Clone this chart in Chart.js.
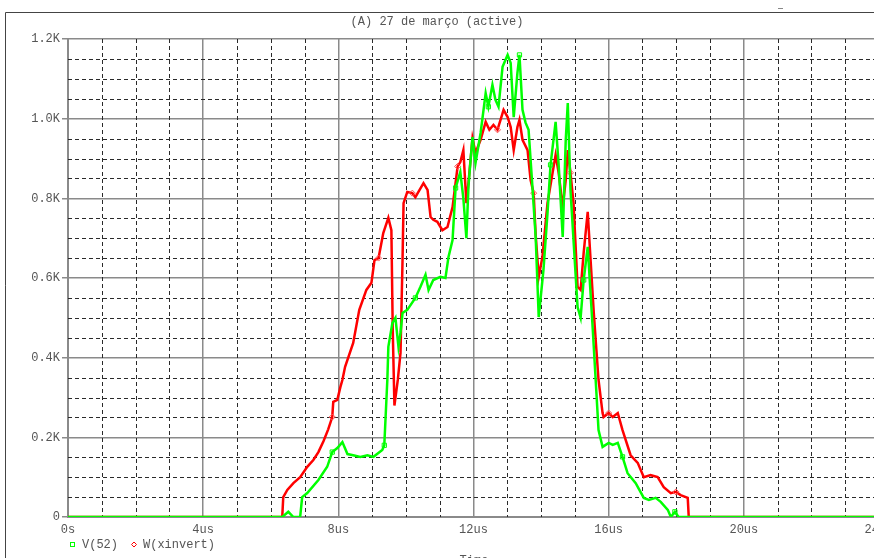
<!DOCTYPE html>
<html>
<head>
<meta charset="utf-8">
<script src="https://cdn.jsdelivr.net/npm/chart.js@4.4.1/dist/chart.umd.min.js"></script>
<style>
    html, body { margin: 0; padding: 0; overflow: hidden; background: #fff; }
    #wrap { width: 920px; height: 558px; }
</style>
</head>
<body>
<div id="wrap"><canvas id="graph" width="920" height="558"></canvas></div>
<script>
/********************
 * Data (time in us, value in K) *
 ********************/
const timesV = [0, 6.34, 6.52, 6.67, 6.87, 6.93, 7.08, 7.41, 7.67, 7.82, 7.97, 8.12, 8.27, 8.44, 8.65, 8.86, 9.04, 9.30, 9.36,
    9.45, 9.48, 9.60, 9.69, 9.78, 9.84, 9.90, 10.04, 10.28, 10.43, 10.58, 10.67, 10.81, 11.02, 11.17, 11.26, 11.38, 11.47,
    11.61, 11.70, 11.79, 11.85, 11.97, 12.06, 12.21, 12.36, 12.44, 12.56, 12.65, 12.74, 12.86, 13.01, 13.10, 13.19, 13.30,
    13.36, 13.45, 13.54, 13.63, 13.75, 13.84, 13.93, 14.07, 14.19, 14.28, 14.43, 14.52, 14.64, 14.73, 14.79, 14.87, 15.08,
    15.17, 15.26, 15.38, 15.53, 15.61, 15.70, 15.82, 16.00, 16.12, 16.27, 16.41, 16.56, 16.80, 17.04, 17.19, 17.39, 17.54,
    17.75, 17.84, 17.96, 18.07, 24];
const valuesV = [0, 0, 0.013, 0, 0, 0.05, 0.06, 0.093, 0.126, 0.163, 0.173, 0.188, 0.158, 0.155, 0.151, 0.155, 0.151, 0.168, 0.18,
    0.344, 0.427, 0.487, 0.5, 0.427, 0.462, 0.512, 0.52, 0.55, 0.578, 0.608, 0.57, 0.595, 0.603, 0.6, 0.653, 0.695, 0.826,
    0.866, 0.80, 0.70, 0.83, 0.954, 0.889, 0.964, 1.064, 1.03, 1.085, 1.047, 1.03, 1.13, 1.16, 1.14, 1.004, 1.115,
    1.16, 1.022, 0.99, 0.972, 0.821, 0.703, 0.502, 0.62, 0.763, 0.884, 0.992, 0.884, 0.703, 0.947, 1.039, 0.821, 0.527,
    0.5, 0.595, 0.678, 0.47, 0.352, 0.218, 0.176, 0.186, 0.181, 0.186, 0.151, 0.11, 0.085, 0.048, 0.043, 0.048, 0.038,
    0.018, 0, 0.013, 0, 0];

const timesW = [0, 6.34, 6.37, 6.49, 6.67, 6.87, 7.08, 7.26, 7.41, 7.56, 7.70, 7.82, 7.85, 7.97, 8.06, 8.12, 8.20, 8.44, 8.62,
    8.83, 8.98, 9.07, 9.19, 9.33, 9.48, 9.57, 9.61, 9.66, 9.76, 9.84, 9.90, 9.93, 10.04, 10.19, 10.28, 10.37, 10.52, 10.64,
    10.73, 10.81, 10.93, 11.08, 11.23, 11.38, 11.53, 11.61, 11.70, 11.79, 11.85, 11.97, 12.06, 12.21, 12.36, 12.47, 12.59,
    12.71, 12.80, 12.89, 13.01, 13.10, 13.19, 13.30, 13.36, 13.45, 13.60, 13.69, 13.78, 13.84, 13.93, 14.04, 14.19, 14.34,
    14.43, 14.52, 14.64, 14.73, 14.79, 14.87, 14.96, 15.08, 15.17, 15.26, 15.38, 15.47, 15.56, 15.70, 15.82, 15.85, 16.00,
    16.12, 16.27, 16.41, 16.65, 16.86, 17.04, 17.24, 17.45, 17.63, 17.84, 17.99, 18.13, 18.34, 18.37, 24];
const valuesW = [0, 0, 0.05, 0.068, 0.085, 0.10, 0.126, 0.143, 0.163, 0.19, 0.22, 0.251, 0.289, 0.294, 0.326, 0.344, 0.377, 0.437, 0.52,
    0.57, 0.588, 0.645, 0.65, 0.713, 0.751, 0.72, 0.47, 0.28, 0.344, 0.412, 0.645, 0.788, 0.816, 0.813, 0.803, 0.816, 0.838, 0.821,
    0.753, 0.746, 0.741, 0.72, 0.728, 0.778, 0.88, 0.891, 0.921, 0.788, 0.838, 0.951, 0.914, 0.947, 0.992, 0.972, 0.984,
    0.972, 0.997, 1.022, 1.004, 0.979, 0.921, 0.979, 0.997, 0.947, 0.921, 0.846, 0.813, 0.708, 0.603, 0.653, 0.788, 0.864,
    0.909, 0.864, 0.778, 0.846, 0.921, 0.864, 0.788, 0.578, 0.57, 0.663, 0.766, 0.638, 0.512, 0.344, 0.261, 0.251, 0.261,
    0.251, 0.261, 0.218, 0.155, 0.136, 0.10, 0.105, 0.10, 0.075, 0.06, 0.063, 0.055, 0.048, 0, 0];

const seriesNames = ['V(52)', 'W(xinvert)'];
const plotTitle = '(A) 27 de março (active)';
const axisTitle = 'Time';

const monoFont = "'Liberation Mono', 'DejaVu Sans Mono', monospace";
const textColor = '#555';

function toPoints(times, values) {
    return times.map((t, i) => ({x: t, y: values[i]}));
}

// sparse markers like the simulator draws
function markerRadius(step, size) {
    return ctx => (ctx.dataIndex > 0 && ctx.dataIndex % step === 0 && ctx.raw.y > 0) ? size : 0;
}

/*********************
 * Extra drawing *
 *********************/
const minorGrid = {
    id: 'minorGrid',
    beforeDatasetsDraw(chart) {
        const {ctx, chartArea, scales} = chart;
        ctx.save();
        ctx.strokeStyle = '#2a2a2a';
        ctx.lineWidth = 1;
        ctx.setLineDash([4, 3]);
        for (let t = 1; t < 24; ++t) {
            if (t % 4 === 0) continue;
            const x = Math.round(scales.x.getPixelForValue(t)) + 0.5;
            ctx.beginPath();
            ctx.moveTo(x, chartArea.top);
            ctx.lineTo(x, chartArea.bottom);
            ctx.stroke();
        }
        for (let k = 1; k < 24; ++k) {
            if (k % 4 === 0) continue;
            const y = Math.round(scales.y.getPixelForValue(k * 0.05)) + 0.5;
            ctx.beginPath();
            ctx.moveTo(chartArea.left, y);
            ctx.lineTo(chartArea.right, y);
            ctx.stroke();
        }
        ctx.restore();
    }
};

const decorations = {
    id: 'decorations',
    afterDraw(chart) {
        const {ctx} = chart;
        ctx.save();
        // outer frame
        ctx.strokeStyle = '#444';
        ctx.lineWidth = 1;
        ctx.beginPath();
        ctx.moveTo(5.5, 600);
        ctx.lineTo(5.5, 12.5);
        ctx.lineTo(920, 12.5);
        ctx.stroke();
        ctx.strokeStyle = '#888';
        ctx.beginPath();
        ctx.moveTo(778, 8.5);
        ctx.lineTo(783, 8.5);
        ctx.stroke();

        ctx.font = '12px ' + monoFont;
        ctx.fillStyle = textColor;
        ctx.textAlign = 'center';
        ctx.textBaseline = 'middle';
        ctx.fillText(plotTitle, 437, 22);

        // legend
        ctx.textAlign = 'left';
        ctx.lineWidth = 1;
        ctx.strokeStyle = '#00ff00';
        ctx.strokeRect(70.5, 542.5, 4, 4);
        ctx.fillText(seriesNames[0], 82, 545);
        ctx.strokeStyle = '#ff0000';
        ctx.beginPath();
        ctx.moveTo(134, 542);
        ctx.lineTo(136.5, 544.5);
        ctx.lineTo(134, 547);
        ctx.lineTo(131.5, 544.5);
        ctx.closePath();
        ctx.stroke();
        ctx.fillText(seriesNames[1], 143, 545);

        ctx.textAlign = 'center';
        ctx.textBaseline = 'top';
        ctx.fillText(axisTitle, 474, 555);
        ctx.restore();
    }
};

/**************************
 * Chart *
 **************************/
const context = document.getElementById('graph').getContext('2d');
const chart = new Chart(context, {
    type: 'line',
    data: {
        datasets: [
            {
                label: seriesNames[0],
                data: toPoints(timesV, valuesV),
                borderColor: '#00ff00',
                borderWidth: 2.5,
                pointStyle: 'rect',
                pointRadius: markerRadius(9, 3),
                pointBackgroundColor: 'rgba(0,0,0,0)',
                pointBorderColor: '#00ff00',
                pointBorderWidth: 1,
                tension: 0,
                fill: false
            },
            {
                label: seriesNames[1],
                data: toPoints(timesW, valuesW),
                borderColor: '#ff0000',
                borderWidth: 2.5,
                pointStyle: 'rectRot',
                pointRadius: markerRadius(11, 3),
                pointBackgroundColor: 'rgba(0,0,0,0)',
                pointBorderColor: '#ff5050',
                pointBorderWidth: 1,
                tension: 0,
                fill: false
            }
        ]
    },
    options: {
        responsive: false,
        animation: false,
        events: [],
        layout: {padding: {left: 0, top: 39, right: 41, bottom: 0}},
        plugins: {
            legend: {display: false},
            title: {display: false},
            tooltip: {enabled: false}
        },
        scales: {
            x: {
                type: 'linear',
                min: 0,
                max: 24,
                afterFit: scale => { scale.height = 41; },
                border: {color: '#8a8a8a', width: 2},
                grid: {color: '#8a8a8a', lineWidth: 1.5, drawTicks: false},
                ticks: {
                    stepSize: 4,
                    padding: 6,
                    color: textColor,
                    font: {family: monoFont, size: 12},
                    maxRotation: 0,
                    callback: value => value === 0 ? '0s' : value + 'us'
                }
            },
            y: {
                min: 0,
                max: 1.2,
                afterFit: scale => { scale.width = 68; },
                border: {color: '#8a8a8a', width: 2},
                grid: {color: '#8a8a8a', lineWidth: 1.5, tickLength: 6, tickColor: '#8a8a8a'},
                ticks: {
                    stepSize: 0.2,
                    padding: 2,
                    color: textColor,
                    font: {family: monoFont, size: 12},
                    callback: value => value === 0 ? '0' : value.toFixed(1) + 'K'
                }
            }
        }
    },
    plugins: [minorGrid, decorations]
});
</script>
</body>
</html>
